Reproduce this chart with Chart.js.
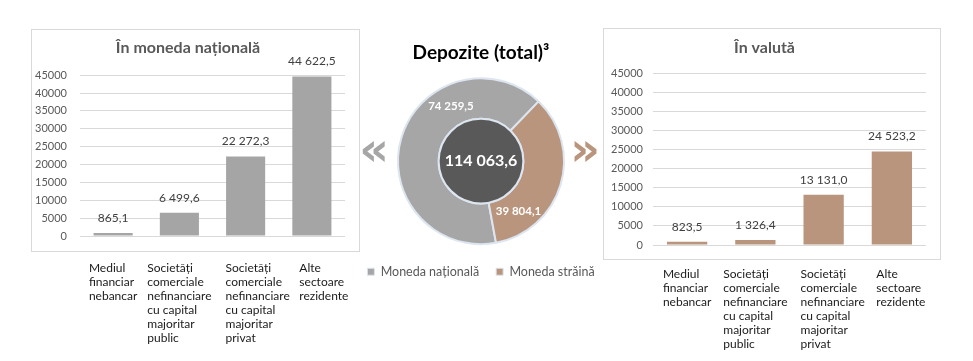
<!DOCTYPE html>
<html><head><meta charset="utf-8">
<script src="https://cdn.jsdelivr.net/npm/chart.js@4.4.1/dist/chart.umd.min.js"></script>
<style>
html,body{margin:0;padding:0;background:#fff;width:973px;height:361px;overflow:hidden;}
.box{position:absolute;border:1px solid #d9d9d9;box-sizing:border-box;}
canvas{position:absolute;}
</style></head><body>
<div class="box" style="left:31px;top:29px;width:329px;height:223px"></div>
<div class="box" style="left:603px;top:28px;width:338px;height:232px"></div>
<canvas id="cLeft" width="329" height="320" style="left:31px;top:29px"></canvas>
<canvas id="cMid" width="280" height="272" style="left:341px;top:28px"></canvas>
<canvas id="cRight" width="338" height="325" style="left:603px;top:28px"></canvas>
<script>
const categories = [
  ["Mediul","financiar","nebancar"],
  ["Societăți","comerciale","nefinanciare","cu capital","majoritar","public"],
  ["Societăți","comerciale","nefinanciare","cu capital","majoritar","privat"],
  ["Alte","sectoare","rezidente"]
];
const nationalValues = [865.1, 6499.6, 22272.3, 44622.5];
const foreignValues = [823.5, 1326.4, 13131.0, 24523.2];
const totalLabels = ["Moneda națională", "Moneda străină"];
const totalValues = [74259.5, 39804.1];
const yTicks = [0, 5000, 10000, 15000, 20000, 25000, 30000, 35000, 40000, 45000];
const titleNational = "În moneda națională";
const titleForeign = "În valută";
const titleTotal = "Depozite (total)³";

const GRAY = '#a5a5a5', BROWN = '#b8957c';

function fmt(v){
  const p = v.toFixed(1).split('.');
  return p[0].replace(/\B(?=(\d{3})+(?!\d))/g, ' ') + ',' + p[1];
}

const barLabels = {
  id: 'barLabels',
  afterDatasetsDraw(chart, args, opts){
    const ctx = chart.ctx;
    const meta = chart.getDatasetMeta(0);
    const vals = chart.data.datasets[0].data;
    ctx.save();
    ctx.font = '12px Lato';
    ctx.fillStyle = '#404040';
    ctx.textAlign = 'center';
    ctx.textBaseline = 'middle';
    meta.data.forEach((bar, i) => ctx.fillText(fmt(vals[i]), bar.x, bar.y - 15));
    ctx.font = '12px Lato';
    ctx.fillStyle = '#1a1a1a';
    ctx.textAlign = 'left';
    ctx.textBaseline = 'top';
    const xs = chart.scales.x;
    chart.data.labels.forEach((lines, i) => {
      const w = Math.max(...lines.map(l => ctx.measureText(l).width));
      const x0 = xs.getPixelForValue(i) - w / 2 + opts.shift[i];
      lines.forEach((l, j) => ctx.fillText(l, x0, opts.catTop + j * 14));
    });
    ctx.restore();
  }
};

function barChart(id, values, color, title, cfg){
  return new Chart(document.getElementById(id), {
    type: 'bar',
    data: { labels: categories, datasets: [{ data: values, backgroundColor: color, barPercentage: 0.59, categoryPercentage: 1 }] },
    options: {
      responsive: false, animation: false,
      layout: { padding: { left: 0, right: cfg.right, top: 0, bottom: cfg.bottom } },
      plugins: {
        legend: { display: false }, tooltip: { enabled: false },
        title: { display: true, text: title, color: '#595959', font: { family: 'Lato', size: 16, weight: 'bold' }, padding: { top: cfg.tTop, bottom: cfg.tBot } },
        barLabels: { catTop: cfg.catTop, shift: cfg.shift }
      },
      scales: {
        x: { display: false },
        y: {
          min: 0, max: 45000,
          afterFit: s => { s.width = cfg.axisW; },
          afterBuildTicks: s => { s.ticks = yTicks.map(v => ({ value: v })); },
          ticks: { padding: cfg.tickPad, color: '#595959', font: { family: 'Lato', size: 11 }, callback: v => String(v) },
          grid: { color: '#d9d9d9', drawTicks: false },
          border: { display: false }
        }
      }
    },
    plugins: [barLabels]
  });
}

barChart('cLeft', nationalValues, GRAY, titleNational, { right: 15, bottom: 113, tTop: 9, tBot: 18, axisW: 49, tickPad: 13, catTop: 233, shift: [0, 0, 12, 12] });
barChart('cRight', foreignValues, BROWN, titleForeign, { right: 15, bottom: 108, tTop: 10, tBot: 16, axisW: 50, tickPad: 10, catTop: 240, shift: [0, 0, 9, 9] });

const donutDeco = {
  id: 'donutDeco',
  afterDatasetsDraw(chart){
    const ctx = chart.ctx;
    const meta = chart.getDatasetMeta(0);
    const a0 = meta.data[0];
    const cx = a0.x, cy = a0.y, ri = a0.innerRadius, ro = a0.outerRadius;
    ctx.save();
    ctx.beginPath();
    ctx.arc(cx, cy, ri, 0, Math.PI * 2);
    ctx.fillStyle = '#595959';
    ctx.fill();
    ctx.lineWidth = 2;
    ctx.strokeStyle = '#dce5f0';
    ctx.stroke();
    const vals = chart.data.datasets[0].data;
    const total = vals.reduce((s, v) => s + v, 0);
    ctx.fillStyle = '#ffffff';
    ctx.textAlign = 'center';
    ctx.textBaseline = 'middle';
    ctx.font = 'bold 16px Lato';
    ctx.fillText(fmt(total), cx, cy);
    ctx.font = 'bold 11.5px Lato';
    const fr = [0.69, 0.79];
    meta.data.forEach((arc, i) => {
      const a = arc.startAngle + fr[i] * (arc.endAngle - arc.startAngle);
      const r = (ri + ro) / 2;
      ctx.fillText(fmt(vals[i]), cx + r * Math.cos(a), cy + r * Math.sin(a));
    });
    ctx.font = 'bold 46px "DejaVu Sans"';
    ctx.textBaseline = 'alphabetic';
    ctx.fillStyle = chart.data.datasets[0].backgroundColor[0];
    ctx.fillText('«', cx - 107, cy + 4);
    ctx.fillStyle = chart.data.datasets[0].backgroundColor[1];
    ctx.fillText('»', cx + 104, cy + 4);
    ctx.restore();
  }
};

new Chart(document.getElementById('cMid'), {
  type: 'doughnut',
  data: { labels: totalLabels, datasets: [{ data: totalValues, backgroundColor: ['#a6a6a6', '#b9957d'], borderColor: '#dce5f0', borderWidth: 2 }] },
  options: {
    responsive: false, animation: false,
    radius: 83, cutout: '51%', rotation: 169.6,
    layout: { padding: { bottom: 12 } },
    plugins: {
      tooltip: { enabled: false },
      title: { display: true, text: titleTotal, color: '#000000', font: { family: 'Lato', size: 19, weight: 'bold' }, padding: { top: 13, bottom: 10 } },
      legend: {
        position: 'bottom',
        labels: {
          boxWidth: 7, boxHeight: 7, color: '#595959', padding: 17,
          font: { family: 'Lato', size: 12.5 },
          generateLabels: chart => Chart.overrides.doughnut.plugins.legend.labels.generateLabels(chart).map(l => Object.assign(l, { lineWidth: 1 }))
        }
      }
    }
  },
  plugins: [donutDeco]
});
</script>
</body></html>
